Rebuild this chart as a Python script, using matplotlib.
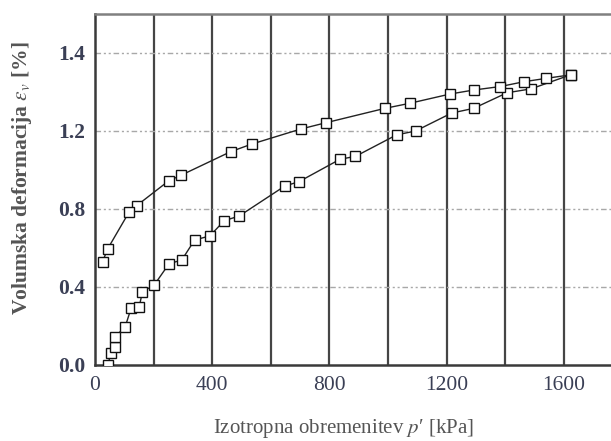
import matplotlib
matplotlib.use("Agg")
import matplotlib.pyplot as plt

# Loading branch (isotropic compression)
p_load = [43, 55, 69, 69, 103, 123, 151, 162, 202, 253, 296, 340, 392, 441, 492,
          648, 696, 836, 889, 1029, 1094, 1217, 1292, 1406, 1488, 1623]
v_load = [0.0, 0.06, 0.09, 0.145, 0.196, 0.29, 0.30, 0.376, 0.41, 0.52, 0.538,
          0.641, 0.662, 0.74, 0.764, 0.918, 0.94, 1.055, 1.07, 1.18, 1.20, 1.292,
          1.316, 1.396, 1.416, 1.488]

# Unloading branch
p_unl = [1623, 1540, 1465, 1383, 1292, 1213, 1074, 989, 787, 702, 535, 463, 295,
         252, 142, 117, 43, 26]
v_unl = [1.488, 1.47, 1.453, 1.428, 1.41, 1.39, 1.342, 1.316, 1.242, 1.21, 1.133,
         1.094, 0.974, 0.945, 0.817, 0.786, 0.595, 0.53]

x_ticks = [0, 400, 800, 1200, 1600]
x_ticklabels = ["0", "400", "800", "1200", "1600"]
y_ticks = [0.0, 0.4, 0.8, 1.2, 1.6]
y_ticklabels = ["0.0", "0.4", "0.8", "1.2", "1.4"]
v_grid = [200, 400, 600, 800, 1000, 1200, 1400, 1600]

plt.rcParams['font.family'] = ['Liberation Serif', 'DejaVu Serif']
plt.rcParams['mathtext.fontset'] = 'stix'

fig = plt.figure(figsize=(6.11, 4.41), dpi=100)
ax = fig.add_axes([95 / 611, 76 / 441, 1 - 95 / 611, (365 - 14) / 441])
ax.set_xlim(0, 1761)
ax.set_ylim(0, 1.8)

for xv in v_grid:
    ax.axvline(xv, color='#454545', lw=1.6, zorder=1)
for yv in y_ticks[1:]:
    ax.axhline(yv, color='#a8a8a8', lw=1.0, ls=(0, (4, 2, 1.5, 2, 1.5, 2)), zorder=1)

mk = dict(marker='s', markersize=7.3, markerfacecolor='white',
          markeredgecolor='#111111', markeredgewidth=1.0, color='#222222', lw=1.0, zorder=3)
ax.plot(p_load, v_load, **mk)
ax.plot(p_unl, v_unl, **mk)

for side in ['left', 'bottom']:
    ax.spines[side].set_color('#3a3a3a')
    ax.spines[side].set_linewidth(1.8)
ax.spines['top'].set_color('#808080')
ax.spines['top'].set_linewidth(1.8)
ax.spines['right'].set_visible(False)

ax.set_xticks(x_ticks)
ax.set_xticklabels(x_ticklabels)
ax.set_yticks(y_ticks)
ax.set_yticklabels(y_ticklabels)
ax.tick_params(axis='both', length=0, labelsize=15.5, labelcolor='#3a3f55')
ax.tick_params(axis='x', pad=8)
ax.tick_params(axis='y', pad=7)
for lab in ax.get_yticklabels():
    lab.set_fontweight('bold')

fig.text(343 / 611, 1 - 428 / 441, "Izotropna obremenitev $p$\u2032 [kPa]",
         ha='center', va='center', fontsize=15, color='#555555')
fig.text(22 / 611, 1 - 178 / 441, r"Volumska deformacija $\varepsilon_v$ [%]",
         ha='center', va='center', rotation=90, fontsize=15.5, fontweight='bold',
         color='#555555')

fig.savefig("out.png", dpi=100)
